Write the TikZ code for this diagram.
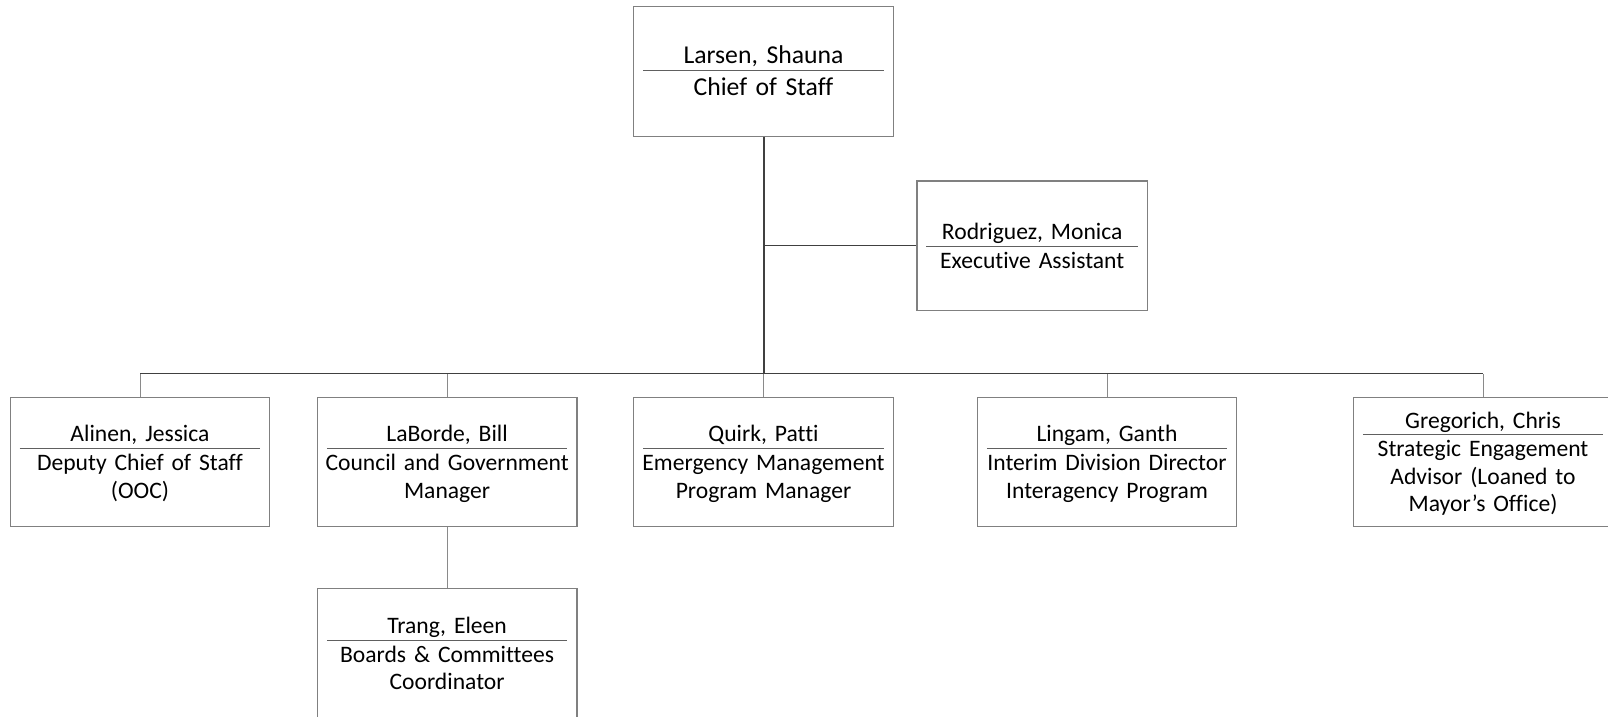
\documentclass[tikz,border=0pt]{standalone}
\usepackage{fontspec}
\setmainfont{Carlito}[Ligatures={NoCommon}]
\definecolor{boxline}{HTML}{808080}
\definecolor{darkline}{HTML}{404040}
\definecolor{dropline}{HTML}{8A8A8A}
\definecolor{ruleclr}{HTML}{606060}
\newcommand{\orgtxt}[4]{\rule{0pt}{24.6pt}#3\rule[-8.3pt]{0pt}{0pt}\par\nointerlineskip\vspace{#1}%
  \hbox to\hsize{\hss{\color{ruleclr}\rule{\dimexpr\hsize-11pt\relax}{0.9pt}}\hss}\nointerlineskip\vspace{#2}%
  \strut #4\strut}
\tikzset{
  orgbox/.style={draw=boxline, line width=1.3pt, rectangle, inner sep=0pt,
    minimum width=259.5pt, minimum height=129.5pt, text width=251.5pt, align=center,
    font=\fontsize{23.6}{27.7}\selectfont},
  topbox/.style={orgbox, font=\fontsize{25.7}{30.2}\selectfont},
  trunkline/.style={draw=darkline, line width=2pt},
  busline/.style={draw=darkline, line width=1.3pt},
  dropline/.style={draw=dropline, line width=1pt},
}
\begin{document}
\begin{tikzpicture}[x=1pt,y=-1pt]
\useasboundingbox (0,0) rectangle (1608,716);
\node[topbox] (top) at (763.5,71.5) {\orgtxt{-2.1pt}{3.5pt}{Larsen, Shauna}{Chief of Staff}};
\node[orgbox, minimum width=230.7pt, text width=222.7pt] (rod) at (1032.2,245.6) {\orgtxt{-2pt}{2.2pt}{Rodriguez, Monica}{Executive Assistant}};
\node[orgbox] (alinen) at (140,462) {\orgtxt{-2pt}{2.2pt}{Alinen, Jessica}{Deputy Chief of Staff\\(OOC)}};
\node[orgbox] (laborde) at (447.1,462) {\orgtxt{-2pt}{2.2pt}{LaBorde, Bill}{Council and Government\\Manager}};
\node[orgbox] (quirk) at (763.5,462) {\orgtxt{-2pt}{2.2pt}{Quirk, Patti}{Emergency Management\\Program Manager}};
\node[orgbox] (lingam) at (1107,462) {\orgtxt{-2pt}{2.2pt}{Lingam, Ganth}{Interim Division Director\\Interagency Program}};
\node[orgbox] (greg) at (1483,462) {\orgtxt{-2.5pt}{2pt}{Gregorich, Chris}{Strategic Engagement\\Advisor (Loaned to\\Mayor’s Office)}};
\node[orgbox] (trang) at (447.1,653.5) {\orgtxt{-2pt}{2.2pt}{Trang, Eleen}{Boards \& Committees\\Coordinator}};
\coordinate (bus) at (763.5,373.5);
% connectors
\draw[dropline] (alinen.north) -- (alinen.north |- bus);
\draw[dropline] (laborde.north) -- (laborde.north |- bus);
\draw[dropline] (quirk.north) -- (bus);
\draw[dropline] (lingam.north) -- (lingam.north |- bus);
\draw[dropline] (greg.north) -- (greg.north |- bus);
\draw[busline] (alinen.north |- bus) -- (greg.north |- bus);
\draw[busline] (rod.west) -- (rod.west -| top.south);
\draw[trunkline] (top.south) -- (bus);
\draw[dropline] (laborde.south) -- (trang.north);
\end{tikzpicture}
\end{document}
